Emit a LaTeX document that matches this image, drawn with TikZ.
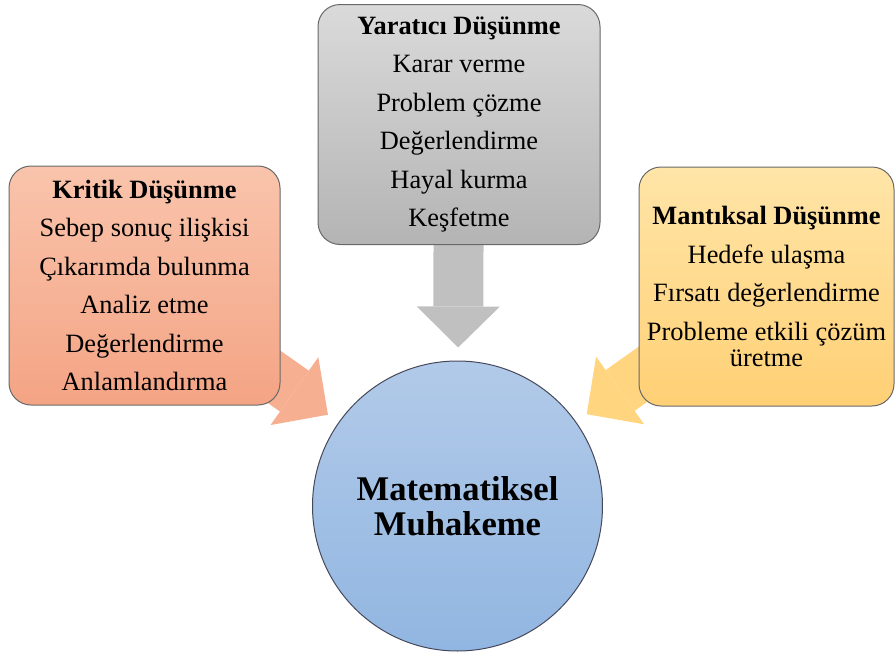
\documentclass[tikz,border=0pt]{standalone}
\usepackage{fontspec}
\setmainfont{LiberationSerif}[Extension=.ttf, UprightFont=*-Regular, BoldFont=*-Bold, ItalicFont=*-Italic, BoldItalicFont=*-BoldItalic]
\usepackage{tikz}
\usetikzlibrary{arrows.meta, shapes.geometric}
\definecolor{krtop}{RGB}{249,196,172}
\definecolor{krbot}{RGB}{244,164,132}
\definecolor{krarrow}{RGB}{247,175,145}
\definecolor{yrtop}{RGB}{218,218,218}
\definecolor{yrbot}{RGB}{180,180,180}
\definecolor{yrarrow}{RGB}{192,192,192}
\definecolor{mntop}{RGB}{255,229,168}
\definecolor{mnbot}{RGB}{255,208,117}
\definecolor{mnarrow}{RGB}{255,213,128}
\definecolor{mhtop}{RGB}{178,202,233}
\definecolor{mhbot}{RGB}{145,182,225}
\definecolor{myedge}{RGB}{105,105,105}
\definecolor{mhedge}{RGB}{70,72,90}
\pgfdeclarelayer{bg}
\pgfsetlayers{bg,main}
\tikzset{
  thinkbox/.style={rectangle, draw=myedge, line width=0.5pt, rounded corners=11pt, align=center, inner sep=0pt, font=\fontsize{13.2}{19.2}\selectfont},
  redbox/.style={thinkbox, top color=krtop, bottom color=krbot, minimum width=135.5pt, minimum height=119.5pt},
  graybox/.style={thinkbox, top color=yrtop, bottom color=yrbot, minimum width=141pt, minimum height=120pt},
  yellowbox/.style={thinkbox, top color=mntop, bottom color=mnbot, minimum width=127.5pt, minimum height=119.5pt},
  centre/.style={circle, draw=mhedge, line width=0.5pt, top color=mhtop, bottom color=mhbot, minimum size=145pt, align=center, font=\fontsize{17.3}{17.5}\selectfont\bfseries},
  blockarrow/.style={line width=25pt, shorten >=6.5pt, -{Triangle[length=20.5pt, width=41.5pt, line width=0pt]}}
}
\begin{document}
\begin{tikzpicture}[x=0.5pt, y=-0.5pt]
  \useasboundingbox (0,0) rectangle (896,659);

  % Thinking boxes
  \node[redbox] (kritik) at (144.5,285.5) {\textbf{Kritik Düşünme}\\Sebep sonuç ilişkisi\\Çıkarımda bulunma\\Analiz etme\\Değerlendirme\\Anlamlandırma};
  \node[graybox] (yaratici) at (459,124.5) {\textbf{Yaratıcı Düşünme}\\Karar verme\\Problem çözme\\Değerlendirme\\Hayal kurma\\Keşfetme};
  \node[yellowbox] (mantiksal) at (766.5,286.5) {\textbf{Mantıksal Düşünme}\\Hedefe ulaşma\\Fırsatı değerlendirme\\Probleme etkili çözüm\\[-6.2pt]üretme};

  % Centre
  \node[centre] (muhakeme) at (457.5,506) {Matematiksel\\Muhakeme};

  % Block arrows behind the boxes
  \begin{pgfonlayer}{bg}
    \draw[blockarrow, krarrow] (kritik.center) -- (muhakeme);
    \draw[blockarrow, yrarrow] (yaratici.center) -- (muhakeme);
    \draw[blockarrow, mnarrow] (mantiksal.center) -- (muhakeme);
  \end{pgfonlayer}
\end{tikzpicture}
\end{document}
